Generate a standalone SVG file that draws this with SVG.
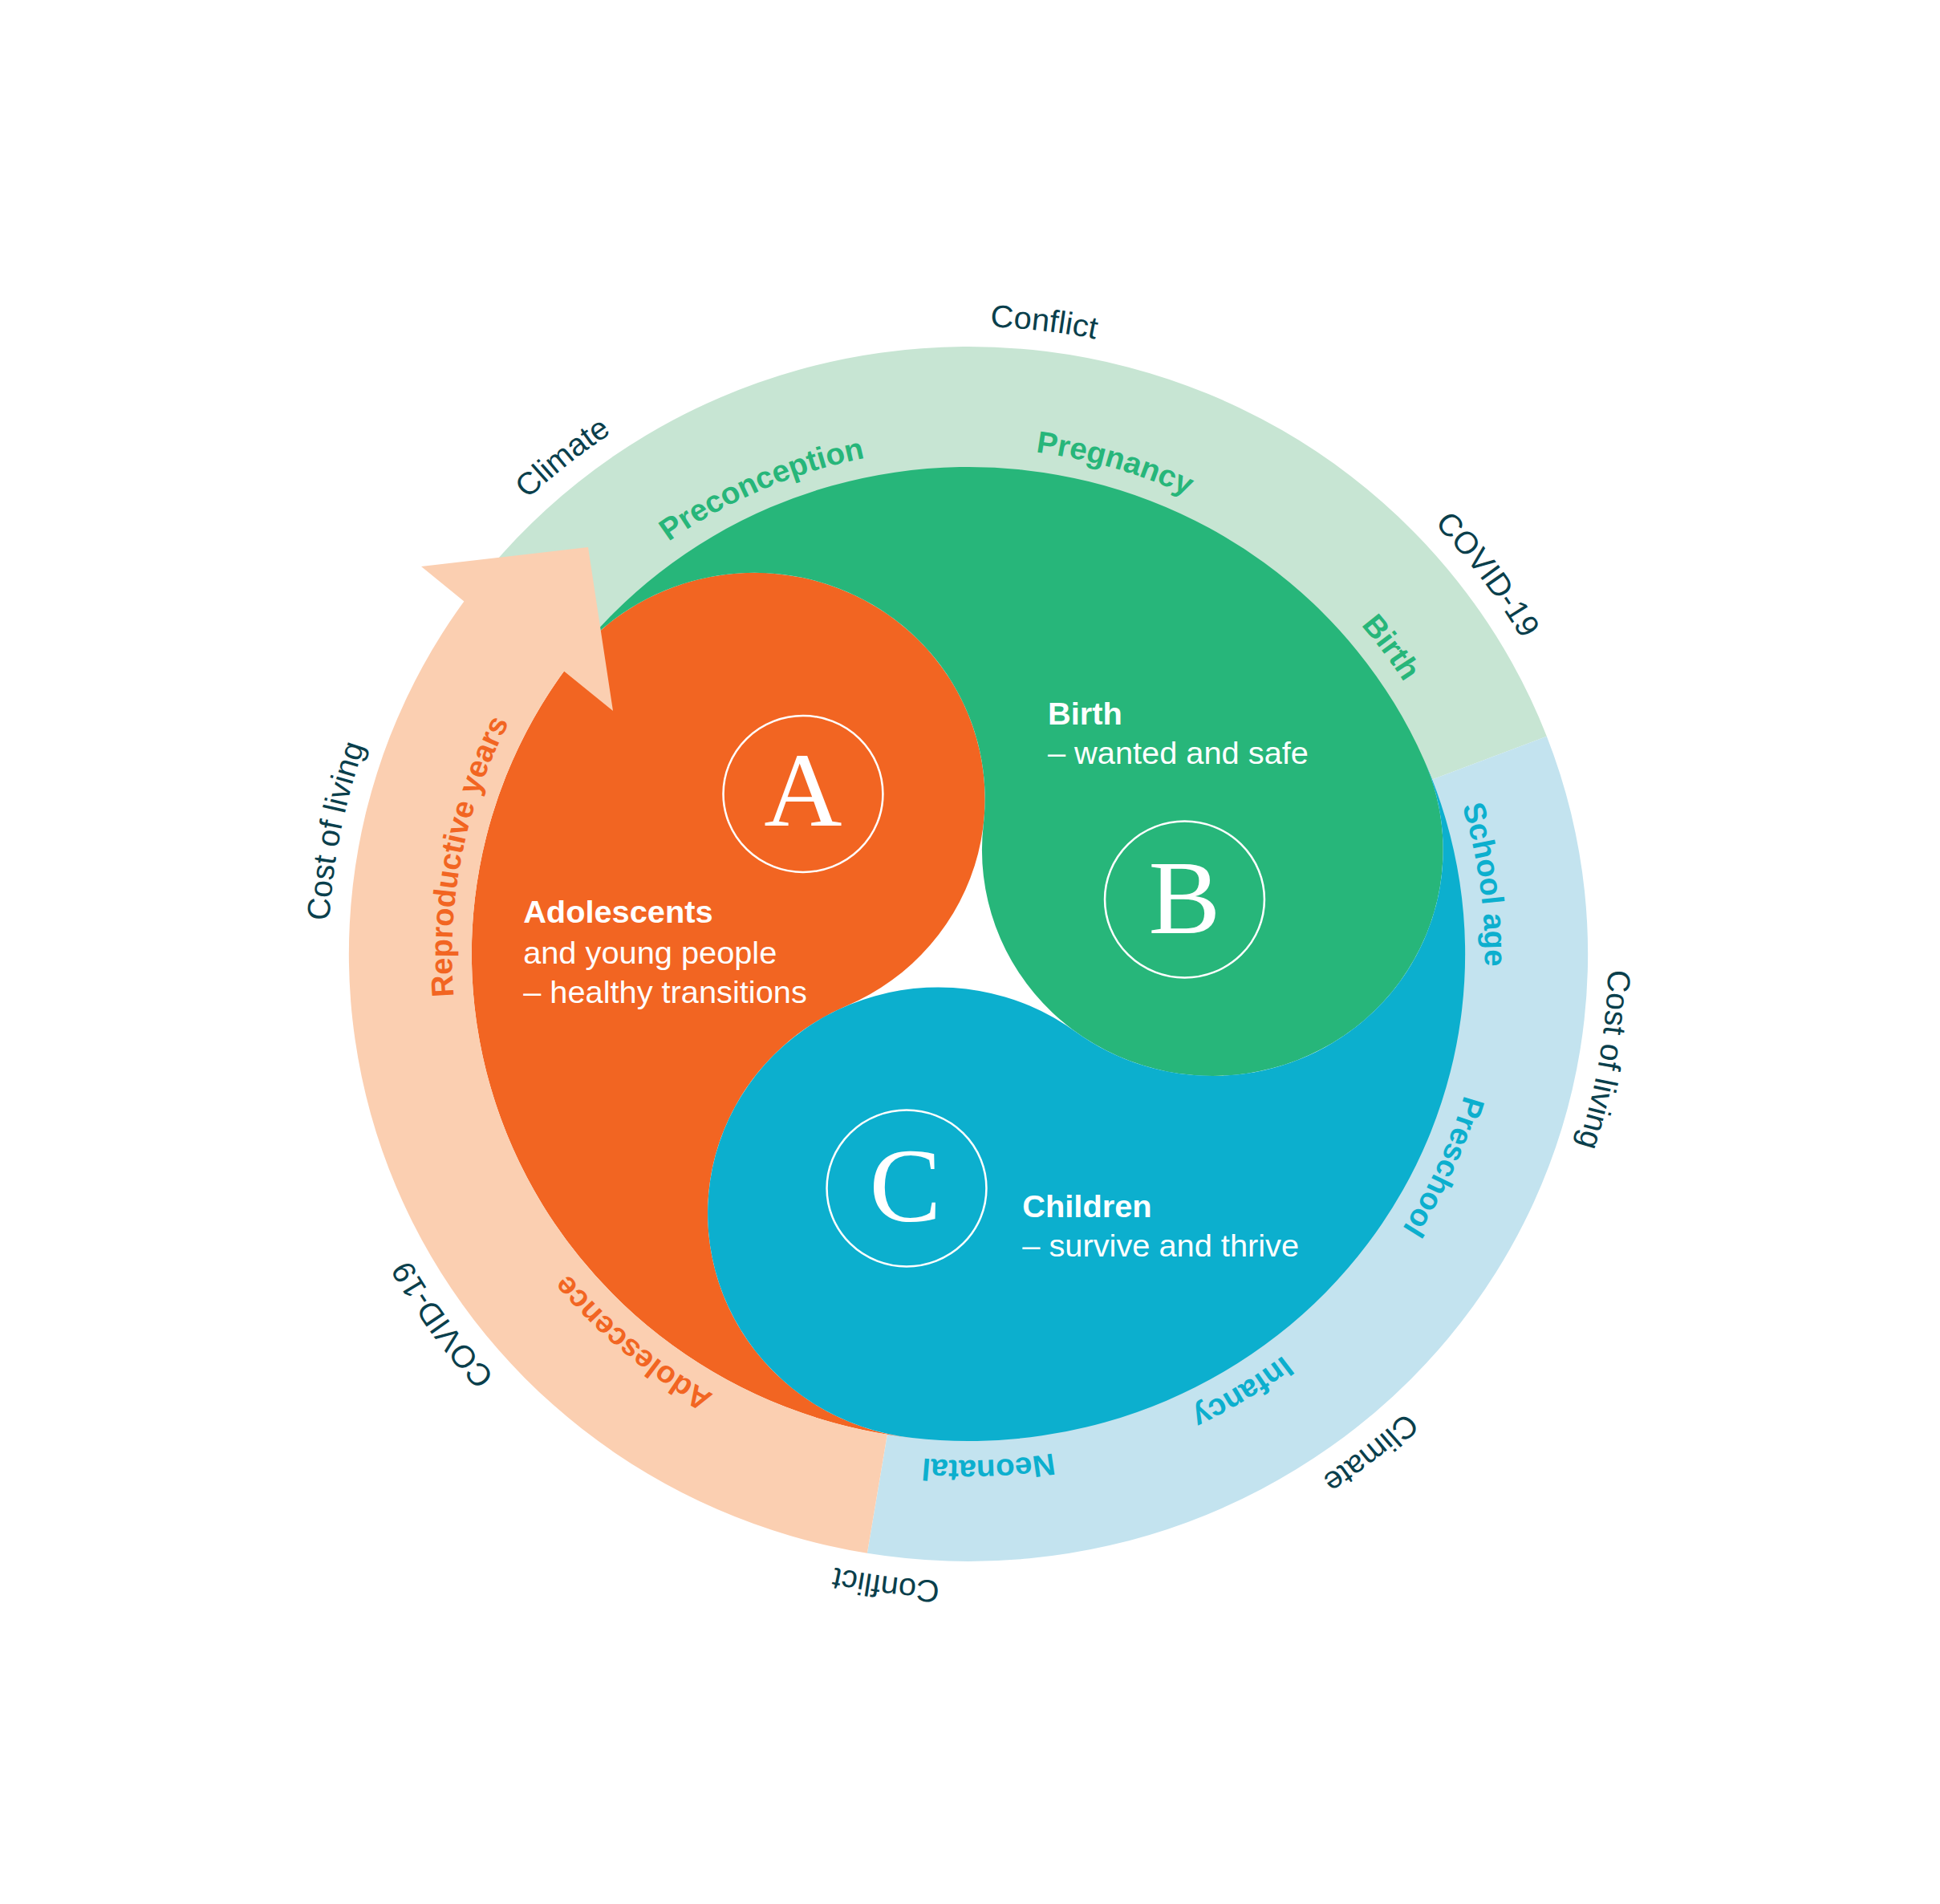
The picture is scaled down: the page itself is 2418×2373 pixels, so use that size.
<svg xmlns="http://www.w3.org/2000/svg" width="2418" height="2373" viewBox="0 0 2418 2373">
<style>
.sans{font-family:"Liberation Sans",Arial,sans-serif}
.w{fill:#fff;font-size:39px}
.bd{font-weight:bold}
.ol{fill:#0a3f4c;font-size:39px;text-anchor:middle}
.rl{font-size:38px;font-weight:bold;text-anchor:middle}
.gt{fill:#27b67a}
.bt{fill:#0cafce}
.ot{fill:#f26522}
.letter{font-family:"Liberation Serif","Times New Roman",serif;fill:#fff;font-size:132px;text-anchor:middle}
.lc{fill:none;stroke:#fff;stroke-width:2.5}
</style>
<defs>
<path id="po" d="M0,782 A782,782 0 1,1 0,-782 A782,782 0 1,1 0,782"/>
<path id="pr" d="M0,631 A631,631 0 1,1 0,-631 A631,631 0 1,1 0,631"/>
</defs>
<rect width="2418" height="2373" fill="#fff"/>
<g transform="translate(1207,1189) scale(1.02,1)">
  <g id="ring">
    <path id="ring-green" fill="#c7e5d3" d="M-616.29,-439.59 A757,757 0 0 1 706.72,-271.28 L564.82,-216.81 A605,605 0 0 0 -492.54,-351.33 Z"/>
    <path id="ring-blue" fill="#c3e3ef" d="M706.72,-271.28 A757,757 0 0 1 -123.64,746.84 L-98.81,596.88 A605,605 0 0 0 564.82,-216.81 Z"/>
  </g>
  <g id="node-A">
    <path fill="#f26522" d="M-68.71,603.10 A607,607 0 0 1 -487.94,-361.06 A281.71,281.71 0 1 1 -149.16,64.86 A281.71,281.71 0 0 0 -68.71,603.10 Z"/>
  </g>
  <g id="node-B">
    <path fill="#27b67a" d="M-487.94,-361.06 A607,607 0 0 1 556.66,-242.04 A281.71,281.71 0 1 1 18.41,-161.60 A281.71,281.71 0 0 0 -487.94,-361.06 Z"/>
  </g>
  <g id="node-C">
    <path fill="#0cafce" d="M556.66,-242.04 A607,607 0 0 1 -68.71,603.10 A281.71,281.71 0 1 1 130.75,96.75 A281.71,281.71 0 0 0 556.66,-242.04 Z"/>
  </g>
  <g id="connectors">
    <path id="arrow" fill="#fbcfb1" d="M-123.64,746.84 A757,757 0 0 1 -616.29,-439.59 L-668.6,-483 L-464.7,-507 L-434.3,-303 L-494.17,-352.49 A607,607 0 0 0 -99.14,598.85 Z"/>
  </g>
  <g id="label-A">
    <circle class="lc" cx="-202" cy="-199.5" r="97.5"/>
    <text class="letter" x="-202" y="-160">A</text>
    <text class="sans w bd" x="-544" y="-39">Adolescents</text>
    <text class="sans w" x="-544" y="12">and young people</text>
    <text class="sans w" x="-544" y="61">– healthy transitions</text>
  </g>
  <g id="label-B">
    <circle class="lc" cx="264.2" cy="-68" r="97.5"/>
    <text class="letter" x="264.2" y="-26.5">B</text>
    <text class="sans w bd" x="97" y="-286">Birth</text>
    <text class="sans w" x="97" y="-237">– wanted and safe</text>
  </g>
  <g id="label-C">
    <circle class="lc" cx="-75.5" cy="292" r="97.5"/>
    <text class="letter" x="-77" y="333">C</text>
    <text class="sans w bd" x="66" y="328">Children</text>
    <text class="sans w" x="66" y="377">– survive and thrive</text>
  </g>
  <g id="stage-labels" class="sans">
    <g transform="rotate(-23.5)"><text class="rl gt"><textPath href="#pr" startOffset="50%">Preconception</textPath></text></g>
    <g transform="rotate(16.3)"><text class="rl gt"><textPath href="#pr" startOffset="50%">Pregnancy</textPath></text></g>
    <g transform="rotate(53.5)"><text class="rl gt"><textPath href="#pr" startOffset="50%">Birth</textPath></text></g>
    <g transform="rotate(82.2)"><text class="rl bt"><textPath href="#pr" startOffset="50%">School age</textPath></text></g>
    <g transform="rotate(114.5)"><text class="rl bt"><textPath href="#pr" startOffset="50%">Preschool</textPath></text></g>
    <g transform="rotate(148.5)"><text class="rl bt"><textPath href="#pr" startOffset="50%">Infancy</textPath></text></g>
    <g transform="rotate(177.8)"><text class="rl bt"><textPath href="#pr" startOffset="50%">Neonatal</textPath></text></g>
    <g transform="rotate(220.2)"><text class="rl ot"><textPath href="#pr" startOffset="50%">Adolescence</textPath></text></g>
    <g transform="rotate(281.2)"><text class="rl ot"><textPath href="#pr" startOffset="50%">Reproductive years</textPath></text></g>
  </g>
  <g id="context-labels" class="sans">
    <g transform="rotate(6.7)"><text class="ol"><textPath href="#po" startOffset="50%">Conflict</textPath></text></g>
    <g transform="rotate(53.3)"><text class="ol"><textPath href="#po" startOffset="50%">COVID-19</textPath></text></g>
    <g transform="rotate(99.6)"><text class="ol"><textPath href="#po" startOffset="50%">Cost of living</textPath></text></g>
    <g transform="rotate(141.7)"><text class="ol"><textPath href="#po" startOffset="50%">Climate</textPath></text></g>
    <g transform="rotate(187.3)"><text class="ol"><textPath href="#po" startOffset="50%">Conflict</textPath></text></g>
    <g transform="rotate(234.3)"><text class="ol"><textPath href="#po" startOffset="50%">COVID-19</textPath></text></g>
    <g transform="rotate(281.2)"><text class="ol"><textPath href="#po" startOffset="50%">Cost of living</textPath></text></g>
    <g transform="rotate(321.3)"><text class="ol"><textPath href="#po" startOffset="50%">Climate</textPath></text></g>
  </g>
</g>
</svg>
